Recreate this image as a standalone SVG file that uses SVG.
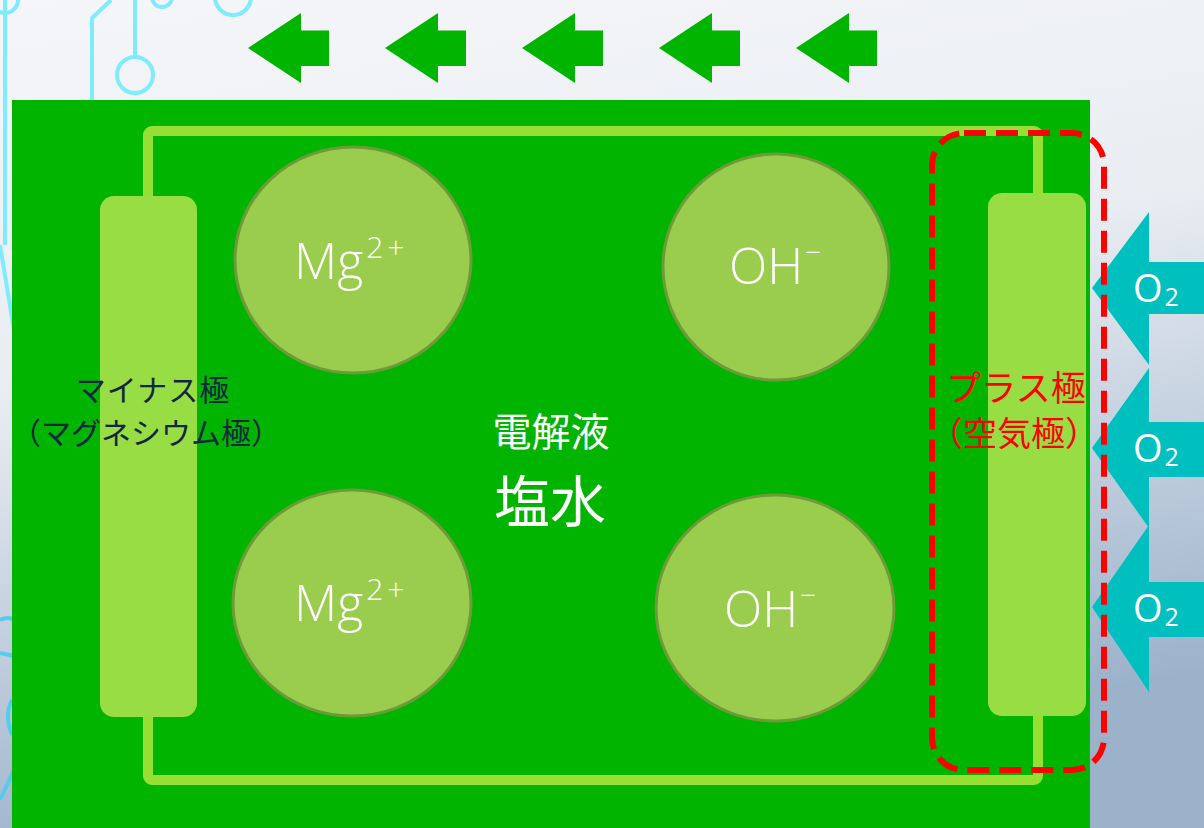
<svg xmlns="http://www.w3.org/2000/svg" width="1204" height="828" viewBox="0 0 1204 828">
<defs>
<linearGradient id="bg" x1="0" y1="0" x2="0.25" y2="1">
<stop offset="0" stop-color="#F5F6F9"/>
<stop offset="0.45" stop-color="#E9EDF2"/>
<stop offset="1" stop-color="#9CB2CB"/>
</linearGradient>
<style>
.circ{fill:none;stroke:#7EEBFF;stroke-width:4}
.circ2{fill:none;stroke:#55CCEE;stroke-width:4}
.wire{fill:none;stroke:#95E032;stroke-width:10}
.elec{fill:#99DD44}
.ion{fill:#9ACD4E;stroke:#6F9A3A;stroke-width:3}
.iontxt{font-family:"Open Sans","Liberation Sans",sans-serif;font-weight:300;fill:#FFFFFF;font-size:50px}
.garrow{fill:#00B400}
.tarrow{fill:#00BFBF}
.o2{font-family:"Open Sans","Liberation Sans",sans-serif;fill:#FFFFFF;font-size:38px}
.jp{font-family:"Noto Sans CJK JP",sans-serif;font-weight:400}
</style>
</defs>
<rect width="1204" height="828" fill="url(#bg)"/>
<g id="background-circuit">
<circle class="circ" cx="5" cy="0" r="13"/>
<path class="circ" d="M5 0 V245"/>
<path class="circ" d="M92 100 V18 L111 0"/>
<path class="circ" d="M135 0 V57"/>
<circle class="circ" cx="135" cy="75" r="18"/>
<circle class="circ" cx="162" cy="-3" r="10"/>
<circle class="circ" cx="233" cy="-3" r="18"/>
<path class="circ" d="M0 245 L14 330"/>
<path class="circ2" d="M0 620 Q8 616 14 620 M0 653 L14 656 M12 700 Q4 715 12 735 M0 800 L14 770"/>
</g>
<g id="top-arrows">
<path class="garrow" d="M248 48 L301 13 V30.5 H329 V66 H301 V83 Z"/>
<path class="garrow" d="M385 48 L438 13 V30.5 H466 V66 H438 V83 Z"/>
<path class="garrow" d="M522 48 L575 13 V30.5 H603 V66 H575 V83 Z"/>
<path class="garrow" d="M659 48 L712 13 V30.5 H740 V66 H712 V83 Z"/>
<path class="garrow" d="M796 48 L849 13 V30.5 H877 V66 H849 V83 Z"/>
</g>
<g id="cell">
<rect x="12" y="100" width="1078" height="728" fill="#00B400"/>
</g>
<g id="connectors">
<rect class="wire" x="148" y="131" width="890" height="649" rx="4"/>
</g>
<g id="negative-electrode">
<rect class="elec" x="100" y="196" width="97" height="521" rx="14"/>
<text class="jp" x="153" y="401" font-size="30" letter-spacing="1" fill="#10283F" text-anchor="middle">マイナス極</text>
<text class="jp" x="146" y="444" font-size="30" fill="#10283F" text-anchor="middle">（マグネシウム極）</text>
</g>
<g id="positive-electrode">
<rect class="elec" x="988" y="193" width="98" height="523" rx="14"/>
</g>
<g id="o2-arrows">
<path class="tarrow" d="M1092 288 L1149 212 V262 H1204 V314 H1149 V365 Z"/>
<path class="tarrow" d="M1092 448 L1149 368 V422 H1204 V477 H1149 V528 Z"/>
<path class="tarrow" d="M1092 607 L1149 525 V582 H1204 V637 H1149 V692 Z"/>
<text class="o2" x="1133" y="302">O<tspan font-size="25" dx="2" dy="4">2</tspan></text>
<text class="o2" x="1133" y="462">O<tspan font-size="25" dx="2" dy="4">2</tspan></text>
<text class="o2" x="1133" y="622">O<tspan font-size="25" dx="2" dy="4">2</tspan></text>
</g>
<g id="air-electrode-highlight">
<rect x="932" y="133" width="172" height="637" rx="32" fill="none" stroke="#FF0000" stroke-width="6" stroke-dasharray="22 10"/>
<text class="jp" x="1016" y="401" font-size="35" fill="#FF0000" text-anchor="middle">プラス極</text>
<text class="jp" x="1014" y="446" font-size="34" fill="#FF0000" text-anchor="middle">（空気極）</text>
</g>
<g id="ion-mg-1">
<ellipse class="ion" cx="353" cy="260" rx="118" ry="113"/>
<text class="iontxt" x="294" y="279">Mg<tspan font-size="30" dx="3" dy="-21" letter-spacing="4">2+</tspan></text>
</g>
<g id="ion-oh-1">
<ellipse class="ion" cx="776" cy="267" rx="113" ry="113"/>
<text class="iontxt" x="729" y="284">OH<tspan font-size="28" dx="2" dy="-22">−</tspan></text>
</g>
<g id="ion-mg-2">
<ellipse class="ion" cx="352" cy="603" rx="119" ry="113"/>
<text class="iontxt" x="294" y="621">Mg<tspan font-size="30" dx="3" dy="-21" letter-spacing="4">2+</tspan></text>
</g>
<g id="ion-oh-2">
<ellipse class="ion" cx="775" cy="608" rx="119" ry="113"/>
<text class="iontxt" x="724" y="627">OH<tspan font-size="28" dx="2" dy="-22">−</tspan></text>
</g>
<g id="electrolyte">
<text class="jp" x="551" y="446" font-size="39" fill="#FFFFFF" text-anchor="middle">電解液</text>
<text class="jp" x="550" y="522" font-size="56" fill="#FFFFFF" text-anchor="middle">塩水</text>
</g>
</svg>
